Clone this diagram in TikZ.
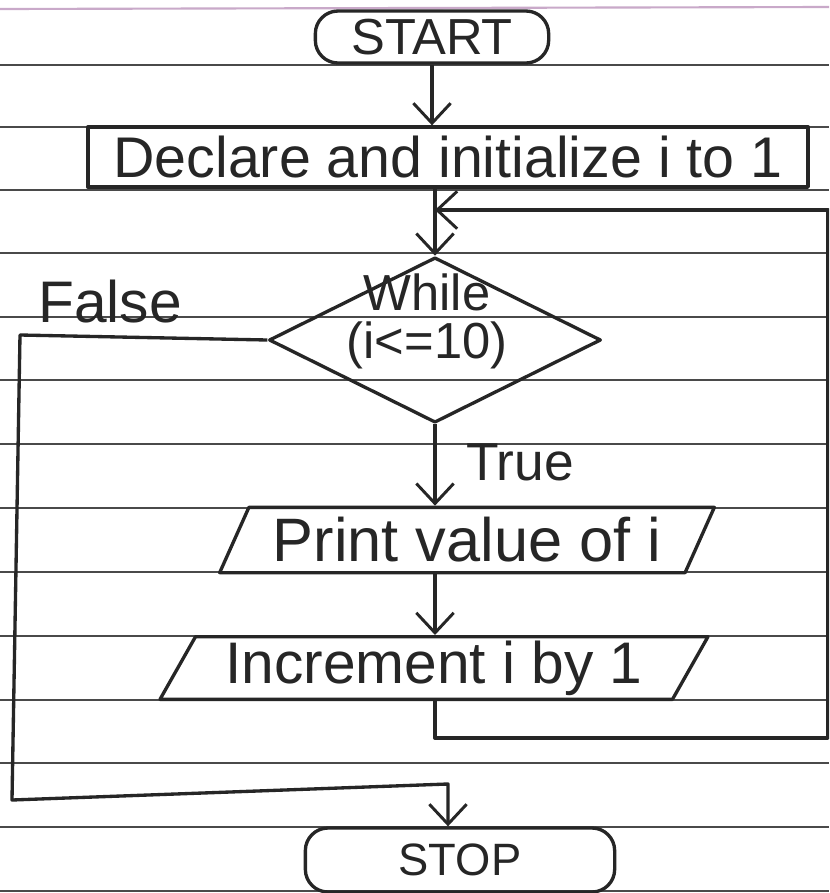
\documentclass[tikz,border=0pt]{standalone}
\usepackage{fontspec}
\setmainfont{Liberation Sans}
\usetikzlibrary{shapes.geometric,arrows.meta}
\definecolor{ink}{HTML}{262626}
\definecolor{rule}{HTML}{4A4A4A}
\definecolor{margin}{HTML}{C9A9C9}
\newcommand{\fs}[1]{\fontsize{#1}{#1}\selectfont}
\tikzset{
  flow/.style={draw=ink, line width=2.5pt, line join=round},
  tip/.style={-{Straight Barb[length=15pt,width=28pt,line width=2.2pt]}},
  terminal/.style={flow, rectangle, rounded corners=17pt, inner sep=0pt},
  process/.style={flow, rectangle, inner sep=0pt},
  io/.style={flow, trapezium, trapezium left angle=57, trapezium right angle=123,
             trapezium stretches body, inner sep=0pt},
  decision/.style={flow, diamond, inner sep=0pt},
  txt/.style={text=ink},
  paperline/.style={draw=rule, line width=1.1pt}
}
\begin{document}
\begin{tikzpicture}[x=0.75pt, y=-0.75pt]
  \useasboundingbox (0,0) rectangle (829,893);
  \clip (0,0) rectangle (829,893);
  \fill[white] (0,0) rectangle (829,893);

  % ruled paper
  \draw[draw=margin, line width=1.6pt] (0,9) -- (829,7);
  \foreach \y in {65,127,190,253,317,380,444,508,572,636,700,763,827,891}
    \draw[paperline] (0,\y) -- (829,\y);

  % flowchart nodes
  \node[terminal, minimum width=175pt, minimum height=39pt, txt] (start) at (432,37) {\fs{38}START};
  \node[process, minimum width=540pt, minimum height=45pt, txt] (declare) at (448,157)
       {\fs{43}Declare and initialize i to 1};
  \node[decision, minimum width=249pt, minimum height=124pt,
        label={[txt, yshift=14pt, xshift=-6pt, align=center, font=\fs{38}]center:While\\[-2pt](i<=10)}] (dia) at (435,340) {};
  \node[io, minimum width=371pt, minimum height=49pt, txt] (print) at (467,540) {\fs{46}Print value of i};
  \node[io, minimum width=411pt, minimum height=47pt, txt] (incr) at (434,668) {\fs{44}Increment i by 1};
  \node[terminal, minimum width=232pt, minimum height=48pt, txt] (stop) at (460,860) {\fs{34}STOP};

  % branch labels
  \node[txt] (lfalse) at (110,302) {\fs{44}False};
  \node[txt] (ltrue) at (520,462) {\fs{40}True};

  % helper points for the routed connectors
  \coordinate (loopin) at (435,210);
  \coordinate (loopturn) at (828,738);
  \coordinate (fa) at (20,335);
  \coordinate (fb) at (12,800);
  \coordinate (fc) at (448,784);

  % connectors
  \draw[flow, tip] (start.south) -- (start.south |- declare.north);
  \draw[flow, tip] (dia.north |- declare.south) -- (dia.north);
  \draw[flow, tip] (dia.south) -- (dia.south |- print.north);
  \draw[flow, tip] (print.south -| dia.south) -- (incr.north -| dia.south);
  \draw[flow, tip] (incr.south -| loopin) |- (loopturn) |- (loopin);
  \draw[flow, tip] (dia.west) -- (fa) -- (fb) -- (fc) -- (fc |- stop.north);
\end{tikzpicture}
\end{document}
